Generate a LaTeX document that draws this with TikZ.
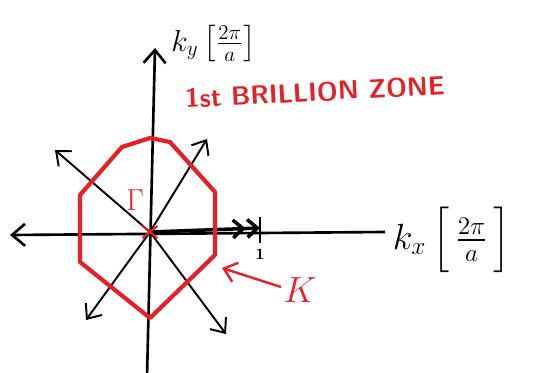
\documentclass[tikz,border=0pt]{standalone}
\usepackage{amsmath}
\usepackage{tikz}
\usepackage{xcolor}
\usetikzlibrary{positioning, arrows.meta}
\definecolor{zonered}{HTML}{E32227}

\begin{document}
\begin{tikzpicture}[
  axis/.style={line width=1.5pt, -{Straight Barb[length=2.6mm, width=4.4mm]}},
  ray/.style={line width=1.1pt, -{Straight Barb[length=2.4mm, width=4mm]}},
  zone/.style={draw=zonered, line width=2.4pt, line join=round},
  redlabel/.style={text=zonered, font=\sffamily\bfseries\fontsize{15}{18}\selectfont},
  klabel/.style={font=\fontsize{22}{26}\selectfont, inner sep=0pt}
]
  \useasboundingbox (-3.0,-2.8) rectangle (7.74,4.64);

  % centre and ends of the axes
  \coordinate (G) at (0,0);
  \coordinate (xl) at (-2.8,-0.06);
  \coordinate (xr) at (4.7,0);
  \coordinate (yb) at (-0.06,-2.9);
  \coordinate (yt) at (0.1,3.68);
  \draw[axis, {Straight Barb[length=2.6mm, width=4.4mm]}-] (xl) -- (xr);
  \draw[axis] (yb) -- (yt);

  % diagonal directions
  \coordinate (ul) at (-1.9,1.64);
  \coordinate (ur) at (1.14,1.86);
  \coordinate (dl) at (-1.28,-1.76);
  \coordinate (dr) at (1.52,-2.04);
  \draw[ray] (G) -- (ul);
  \draw[ray] (G) -- (ur);
  \draw[ray] (G) -- (dl);
  \draw[ray] (G) -- (dr);

  % unit vector along kx
  \coordinate (one) at (2.2,0.08);
  \draw[line width=2pt, -{Straight Barb[length=2mm, width=3.6mm] Straight Barb[length=2mm, width=3.6mm]}] (G) -- (one);
  \draw[line width=1.3pt] (2.2,-0.22) -- (2.2,0.3);
  \node[font=\small\bfseries] (n1) at (2.2,-0.44) {1};

  % first zone
  \coordinate (z1) at (-1.4,0.74);
  \coordinate (z2) at (-0.56,1.7);
  \coordinate (z3) at (0,1.88);
  \coordinate (z4) at (0.4,1.8);
  \coordinate (z5) at (1.3,0.8);
  \coordinate (z6) at (1.3,-0.46);
  \coordinate (z7) at (0,-1.72);
  \coordinate (z8) at (-1.4,-0.6);
  \draw[zone] (z1) -- (z2) -- (z3) -- (z4) -- (z5) -- (z6) -- (z7) -- (z8) -- cycle;
  \draw[zonered, line width=1.2pt] (-0.15,-0.12) -- (0.15,0.12) (-0.15,0.12) -- (0.15,-0.12);
  \node[text=zonered, font=\fontsize{16}{18}\selectfont] (gamma) at (-0.3,0.64) {$\Gamma$};

  % K point
  \coordinate (Ktip) at (1.44,-0.72);
  \node[text=zonered, font=\fontsize{22}{24}\selectfont] (K) at (3.0,-1.16) {$K$};
  \draw[zonered, line width=1.4pt, -{Straight Barb[length=2.4mm, width=4mm]}] (2.62,-1.1) -- (Ktip);

  % labels
  \node[klabel, anchor=west] (kx) at (4.85,-0.16) {$k_x\,\Bigl[\,\frac{2\pi}{a}\,\Bigr]$};
  \node[klabel, font=\fontsize{18}{22}\selectfont, anchor=south west] (ky) at (0.42,3.4) {$k_y\,\bigl[\tfrac{2\pi}{a}\bigr]$};
  \node[redlabel, rotate=3] (bz) at (3.3,2.8) {1st BRILLION ZONE};
\end{tikzpicture}
\end{document}
